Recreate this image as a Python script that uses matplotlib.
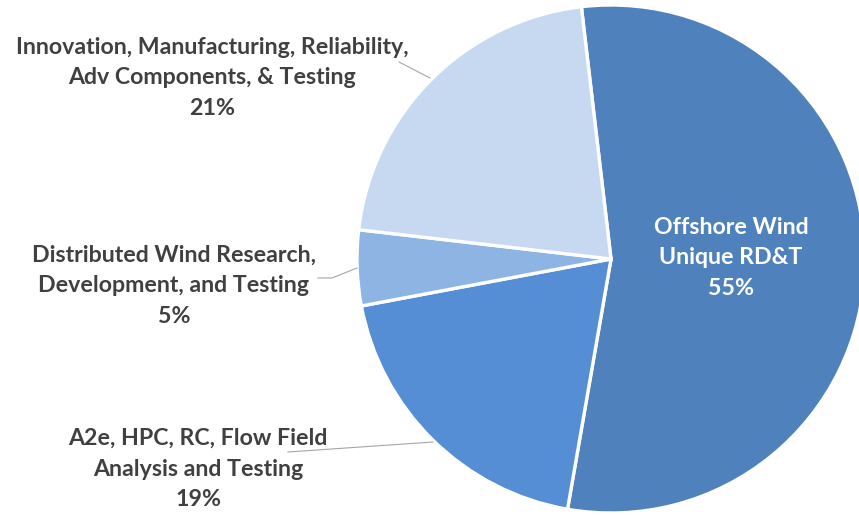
import numpy as np
import matplotlib.pyplot as plt

# --- dane ---
labels = [
    "Offshore Wind\nUnique RD&T",
    "A2e, HPC, RC, Flow Field\nAnalysis and Testing",
    "Distributed Wind Research,\nDevelopment, and Testing",
    "Innovation, Manufacturing, Reliability,\nAdv Components, & Testing",
]
shares = [54.6, 19.3, 4.8, 21.3]
colors = ["#4F81BD", "#558ED5", "#8EB4E3", "#C6D9F1"]

# --- geometria w pikselach (obraz 859x515) ---
W, H = 859, 515
cx, cy, r = 611, 259, 254


def px(x, y):
    # piksele -> wspolrzedne danych (promien = 1)
    return (x - cx) / r, (cy - y) / r


fig = plt.figure(figsize=(W / 100, H / 100), dpi=100)
ax = fig.add_axes([(cx - r) / W, (H - cy - r) / H, 2 * r / W, 2 * r / H])

ax.pie(shares, colors=colors, startangle=96.7, counterclock=False, radius=1,
       wedgeprops=dict(edgecolor="white", linewidth=2.4), frame=False)
ax.set_xlim(-1, 1)
ax.set_ylim(-1, 1)
ax.axis("off")

font = dict(family=["Lato", "DejaVu Sans"], weight="bold", fontsize=16.7,
            ha="center", va="center", linespacing=1.55)
txt = "#404040"

# --- etykiety ---
label_pos = [(731, 258), (198, 469), (174, 286), (212, 78)]
for i, (lab, val, pos) in enumerate(zip(labels, shares, label_pos)):
    x, y = px(*pos)
    col = "white" if i == 0 else txt
    ax.text(x, y, f"{lab}\n{val:.0f}%", color=col, clip_on=False, **font)

# --- linie odniesienia ---
leaders = [
    [(399, 62), (430, 78)],
    [(318, 278), (332, 278), (357, 268)],
    [(288, 452), (433, 442)],
]
for pts in leaders:
    xy = np.array([px(*p) for p in pts])
    ax.plot(xy[:, 0], xy[:, 1], color="#A6A6A6", lw=0.8, clip_on=False)

fig.savefig("out.png", dpi=100)
